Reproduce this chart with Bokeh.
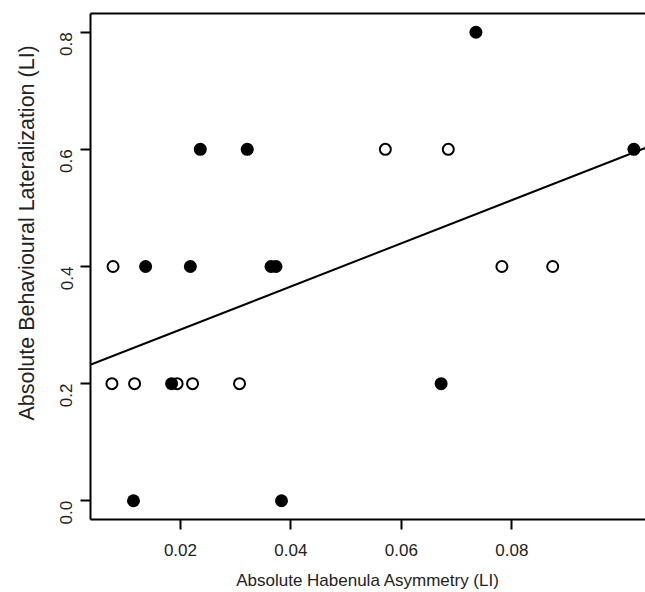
import math
import numpy as np
from bokeh.plotting import figure
from bokeh.models import (Range1d, FixedTicker, PrintfTickFormatter, LinearAxis,
                          Slope, Title)
from bokeh.embed import file_html
from bokeh.resources import INLINE

# Data
filled_x = [0.0236, 0.0321, 0.0137, 0.0218, 0.0364, 0.0373, 0.0735, 0.1021,
            0.0184, 0.0672, 0.0115, 0.0383]
filled_y = [0.6, 0.6, 0.4, 0.4, 0.4, 0.4, 0.8, 0.6, 0.2, 0.2, 0.0, 0.0]
open_x = [0.0078, 0.0571, 0.0685, 0.0782, 0.0874, 0.0076, 0.0117, 0.0194,
          0.0222, 0.0307]
open_y = [0.4, 0.6, 0.6, 0.4, 0.4, 0.2, 0.2, 0.2, 0.2, 0.2]
x_ticks = [0.02, 0.04, 0.06, 0.08]
y_ticks = [0.0, 0.2, 0.4, 0.6, 0.8]
x_title = "Absolute Habenula Asymmetry (LI)"
y_title = "Absolute Behavioural Lateralization (LI)"

all_x = np.array(filled_x + open_x)
all_y = np.array(filled_y + open_y)
slope, intercept = np.polyfit(all_x, all_y, 1)

FONT = "Liberation Sans"
TXT = "#222222"

p = figure(width=645, height=592, output_backend="svg", toolbar_location=None,
           x_range=Range1d(0.00372, 0.1042), y_range=Range1d(-0.032, 0.832),
           min_border_left=89, min_border_right=0, min_border_top=13,
           min_border_bottom=73)
p.outline_line_color = None
p.xgrid.visible = False
p.ygrid.visible = False
p.background_fill_color = "white"
p.border_fill_color = "white"

for ax in (p.xaxis[0], p.yaxis[0]):
    ax.axis_line_width = 2
    ax.axis_line_color = "black"
    ax.major_tick_line_width = 2
    ax.major_tick_line_color = "black"
    ax.major_tick_out = 10
    ax.major_tick_in = 0
    ax.minor_tick_line_color = None
    ax.major_label_text_font = FONT
    ax.major_label_text_font_size = "17px"
    ax.major_label_text_color = TXT
    ax.axis_label_text_font = FONT
    ax.axis_label_text_font_size = "17px"
    ax.axis_label_text_font_style = "normal"
    ax.axis_label_text_color = TXT

p.xaxis[0].ticker = FixedTicker(ticks=x_ticks)
p.xaxis[0].formatter = PrintfTickFormatter(format="%.2f")
p.xaxis[0].axis_label = x_title
p.xaxis[0].major_label_standoff = 14
p.xaxis[0].axis_label_standoff = 12

p.yaxis[0].ticker = FixedTicker(ticks=y_ticks)
p.yaxis[0].formatter = PrintfTickFormatter(format="%.1f")
p.yaxis[0].major_label_orientation = math.pi / 2
p.yaxis[0].major_label_standoff = 14

ytitle = Title(text=y_title, align="left", offset=99, standoff=25,
               text_font=FONT, text_font_size="21.5px", text_font_style="normal",
               text_color=TXT)
p.add_layout(ytitle, "left")

top = LinearAxis(axis_line_width=2, axis_line_color="black",
                 major_tick_line_color=None, minor_tick_line_color=None,
                 major_label_text_font_size="0px", major_label_standoff=0,
                 major_tick_out=0, major_tick_in=0)
top.ticker = FixedTicker(ticks=[])
p.add_layout(top, "above")

p.add_layout(Slope(gradient=slope, y_intercept=intercept, line_color="black",
                   line_width=2))

p.scatter(x=open_x, y=open_y, size=11, marker="circle", fill_color=None,
          line_color="black", line_width=2)
p.scatter(x=filled_x, y=filled_y, size=13, marker="circle", fill_color="black",
          line_color=None)

open("out.html", "w").write(file_html(p, INLINE))
